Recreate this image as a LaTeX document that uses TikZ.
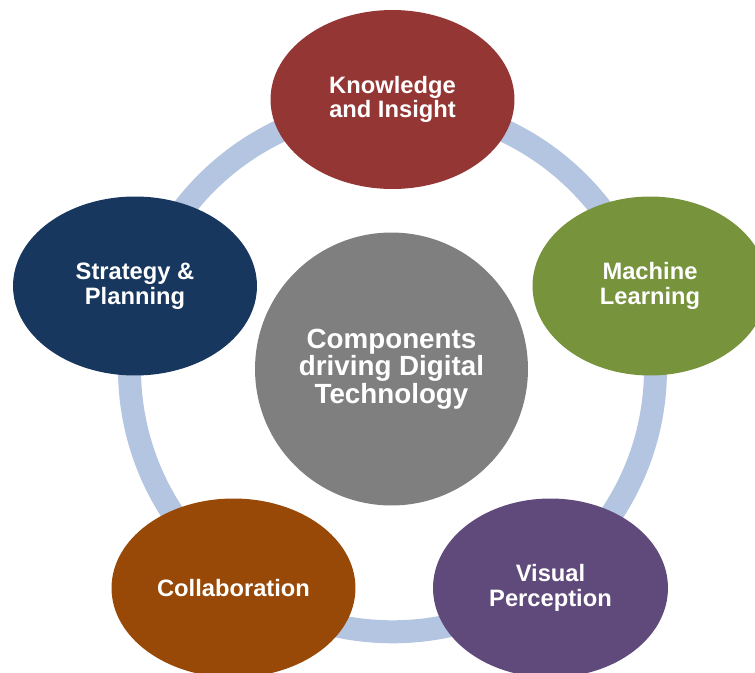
\documentclass[tikz,border=0pt]{standalone}
\usepackage{fontspec}
\setmainfont{Liberation Sans}
\usetikzlibrary{shapes.geometric}
\definecolor{ringblue}{HTML}{B3C5E0}
\definecolor{knowred}{HTML}{943634}
\definecolor{learngreen}{HTML}{77933C}
\definecolor{visualpurple}{HTML}{604A7B}
\definecolor{collaborange}{HTML}{984807}
\definecolor{stratnavy}{HTML}{17375E}
\definecolor{coregray}{HTML}{7F7F7F}
\begin{document}
\begin{tikzpicture}[x=0.02cm,y=-0.02cm,
  part/.style={ellipse,minimum width=4.88cm,minimum height=3.58cm,inner sep=0pt,
    text=white,align=center,font=\fontsize{13.5}{14}\selectfont\bfseries},
  core/.style={circle,minimum size=5.46cm,inner sep=0pt,fill=coregray,
    text=white,align=center,font=\fontsize{15.8}{15.6}\selectfont\bfseries}]
\useasboundingbox (0,0) rectangle (755,673);
\clip (0,0) rectangle (755,673);
% ring
\coordinate (hub) at (392.5,368.8);
\draw [ringblue,line width=0.46cm] (hub) circle (263);
% outer parts
\node [part,fill=knowred] (know) at (392.5,99.5) {Knowledge\\and Insight};
\node [part,fill=learngreen,minimum width=4.7cm] (learn) at (650,286) {Machine\\Learning};
\node [part,fill=visualpurple,minimum width=4.7cm] (visual) at (550.5,588) {Visual\\Perception};
\node [part,fill=collaborange] (collab) at (233.5,588) {Collaboration};
\node [part,fill=stratnavy] (strat) at (135,286) {Strategy \&\\Planning};
% centre
\node [core] (centre) at (391.5,369) {Components\\driving Digital\\Technology};
\end{tikzpicture}
\end{document}
